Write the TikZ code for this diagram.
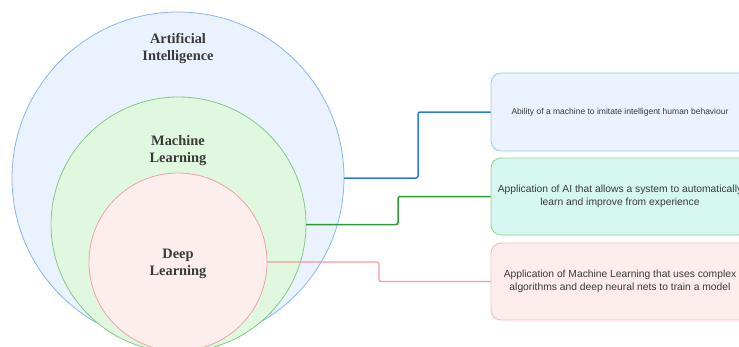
\documentclass[tikz,border=0pt]{standalone}
\usepackage{fontspec}
\setmainfont{Liberation Sans}
\newfontfamily\titlefont{Liberation Serif}
\definecolor{aifill}{HTML}{EAF2FD}
\definecolor{aidraw}{HTML}{88B6F2}
\definecolor{mlfill}{HTML}{E0F8E0}
\definecolor{mldraw}{HTML}{86C986}
\definecolor{dlfill}{HTML}{FDEEEE}
\definecolor{dldraw}{HTML}{F2A3A3}
\definecolor{b1fill}{HTML}{EBF3FE}
\definecolor{b1draw}{HTML}{9EC4F5}
\definecolor{b2fill}{HTML}{D6F7EF}
\definecolor{b2draw}{HTML}{92D192}
\definecolor{b3fill}{HTML}{FDEDED}
\definecolor{b3draw}{HTML}{F6B8B8}
\definecolor{cblue}{HTML}{2A7AE6}
\definecolor{cgreen}{HTML}{2E9A35}
\definecolor{cpink}{HTML}{F59B9B}
\definecolor{txt}{HTML}{3A3A3A}
\tikzset{
  ring/.style={circle, inner sep=0pt, outer sep=0pt, line width=0.8pt},
  title/.style={font=\titlefont\bfseries\fontsize{14.4}{17}\selectfont, text=txt, align=center, inner sep=0pt},
  infobox/.style={rectangle, rounded corners=10pt, minimum width=258pt, line width=0.8pt, text=txt, align=center, inner sep=0pt},
  link/.style={line width=1.5pt, rounded corners=2pt},
}
\begin{document}
\begin{tikzpicture}[x=1pt, y=-1pt]
\useasboundingbox (0,0) rectangle (739,346);
\clip (0,0) rectangle (739,346);
\node[ring, fill=aifill, draw=aidraw, minimum size=332pt] (ai) at (178,178) {};
\node[ring, fill=mlfill, draw=mldraw, minimum size=255pt] (ml) at (178.5,224.5) {};
\node[ring, fill=dlfill, draw=dldraw, minimum size=178pt] (dl) at (178,262) {};
\node[title] (tai) at (178,48.5) {Artificial\\Intelligence};
\node[title] (tml) at (178,151) {Machine\\Learning};
\node[title] (tdl) at (178,264) {Deep\\Learning};
\node[infobox, fill=b1fill, draw=b1draw, minimum height=78pt, font=\fontsize{8.5}{11}\selectfont] (b1) at (620,112) {Ability of a machine to imitate intelligent human behaviour};
\node[infobox, fill=b2fill, draw=b2draw, minimum height=77pt, font=\fontsize{10.3}{13.5}\selectfont] (b2) at (620,196.5) {Application of AI that allows a system to automatically\\learn and improve from experience};
\node[infobox, fill=b3fill, draw=b3draw, minimum height=77pt, font=\fontsize{10.3}{13.5}\selectfont] (b3) at (620,281.5) {Application of Machine Learning that uses complex\\algorithms and deep neural nets to train a model};
\draw[link, cblue] (ai.east) -- ++(74,0) |- (b1.west);
\draw[link, cgreen] (ml.east) -- ++(92,0) |- (b2.west);
\draw[link, cpink, line width=1.3pt] (dl.east) -- ++(112,0) |- (b3.west);
\end{tikzpicture}
\end{document}
